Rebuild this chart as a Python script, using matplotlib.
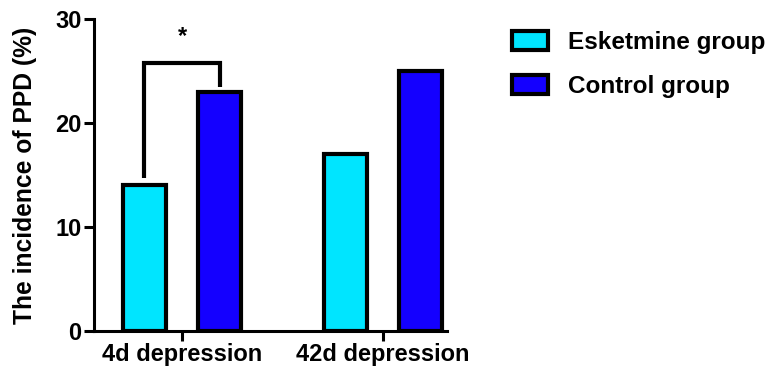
import matplotlib
matplotlib.use("Agg")
import matplotlib.pyplot as plt
import numpy as np

plt.rcParams['font.family'] = ['Liberation Sans', 'DejaVu Sans']
plt.rcParams['font.weight'] = 'bold'

categories = ["4d depression", "42d depression"]
groups = ["Esketmine group", "Control group"]
esketmine = [14, 17]
control = [23, 25]
colors = ["#00E5FF", "#1400FF"]
yticks = [0, 10, 20, 30]

fig = plt.figure(figsize=(7.72, 3.71), dpi=100)
ax = fig.add_axes([0.1218, 0.108, 0.4572, 0.841])

x = np.arange(len(categories))
offset = 0.187
width = 0.215
lw = 3.0
ax.bar(x - offset, esketmine, width, color=colors[0], edgecolor="black",
       linewidth=lw, label=groups[0])
ax.bar(x + offset, control, width, color=colors[1], edgecolor="black",
       linewidth=lw, label=groups[1])

# significance bracket
x1, x2 = x[0] - offset, x[0] + offset
ax.plot([x1, x1, x2, x2], [esketmine[0] + 0.7, 25.8, 25.8, control[0] + 0.5],
        color="black", linewidth=3.0, solid_capstyle="butt", solid_joinstyle="miter")
ax.text(x[0], 28.3, "*", ha="center", va="center", fontsize=17, fontweight="bold")

ax.set_xlim(-0.438, 1.318)
ax.set_ylim(0, 30)
ax.set_xticks(x)
ax.set_xticklabels(categories, fontsize=17, fontweight="bold")
ax.set_yticks(yticks)
ax.set_yticklabels([str(t) for t in yticks], fontsize=17, fontweight="bold")
ax.set_ylabel("The incidence of PPD (%)", fontsize=17.7, fontweight="bold", labelpad=13)

for side in ["top", "right"]:
    ax.spines[side].set_visible(False)
for side in ["left", "bottom"]:
    ax.spines[side].set_linewidth(2.2)
ax.tick_params(axis="both", width=2.2, length=7, pad=2)

fig.legend(loc="upper left", bbox_to_anchor=(512 / 772, 1 - 31 / 371), frameon=False,
           fontsize=17.5, handlelength=1.5, handleheight=0.85, labelspacing=0.85,
           handletextpad=0.8, borderpad=0, borderaxespad=0)

fig.savefig("out.png", dpi=100)
